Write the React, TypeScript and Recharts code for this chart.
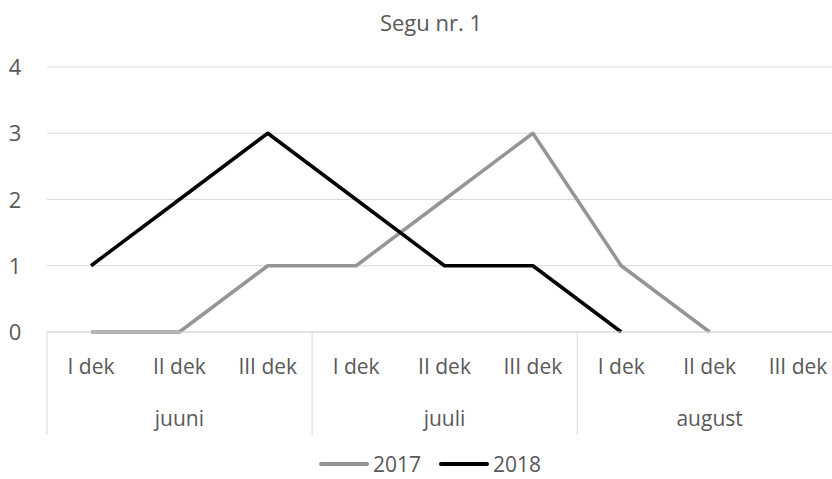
import { LineChart, Line, XAxis, YAxis, CartesianGrid, Legend } from "recharts"

const dekads = ["I dek", "II dek", "III dek", "I dek", "II dek", "III dek", "I dek", "II dek", "III dek"]
const months = ["juuni", "juuli", "august"]
const values2017 = [0, 0, 1, 1, 2, 3, 1, 0, null]
const values2018 = [1, 2, 3, 2, 1, 1, 0, null, null]
const yTicks = [0, 1, 2, 3, 4]

const data = dekads.map((d, i) => ({
  key: i,
  dek: d,
  month: months[Math.floor(i / 3)],
  y2017: values2017[i],
  y2018: values2018[i],
}))

const FONT = "'Open Sans', sans-serif"
const TEXT = "#595959"
const GRID = "#d9d9d9"
const HALF_STEP = 44

const SERIES = [
  { key: "y2017", name: "2017", color: "#959595" },
  { key: "y2018", name: "2018", color: "#000000" },
]

function XTick(props: any) {
  const { x, y, payload } = props
  const i = payload.value as number
  const row = data[i]
  return (
    <g>
      <text x={x} y={y + 42} textAnchor="middle" fill={TEXT} fontSize={21} fontFamily={FONT}>
        {row.dek}
      </text>
      {i % 3 === 1 && (
        <text x={x} y={y + 94} textAnchor="middle" fill={TEXT} fontSize={21} fontFamily={FONT}>
          {row.month}
        </text>
      )}
      {i % 3 === 0 && <line x1={x - HALF_STEP} x2={x - HALF_STEP} y1={y} y2={y + 103} stroke={GRID} />}
    </g>
  )
}

function YTick(props: any) {
  const { y, payload } = props
  return (
    <text x={15} y={y + 8} textAnchor="middle" fill={TEXT} fontSize={22} fontFamily={FONT}>
      {payload.value}
    </text>
  )
}

function LegendContent() {
  return (
    <div style={{ height: 44, display: "flex", justifyContent: "center", gap: 18, fontFamily: FONT, fontSize: 21, color: TEXT, paddingLeft: 18, boxSizing: "border-box" }}>
      {SERIES.map((s) => (
        <div key={s.key} style={{ display: "flex", alignItems: "center", gap: 4, height: 28, marginTop: 15, lineHeight: "28px" }}>
          <div style={{ width: 50, height: 4, borderRadius: 2, backgroundColor: s.color }} />
          <span>{s.name}</span>
        </div>
      ))}
    </div>
  )
}

export default function App() {
  return (
    <div style={{ position: "fixed", left: 0, top: 0, width: 832, height: 479, overflow: "hidden", background: "#fff" }}>
      <div style={{ position: "absolute", top: 5, left: 0, width: 850, textAlign: "center", paddingLeft: 12, boxSizing: "border-box", fontFamily: FONT, fontSize: 22, color: TEXT, lineHeight: "34px" }}>
        Segu nr. 1
      </div>
      <LineChart width={850} height={479} data={data} margin={{ top: 67, right: 8, left: 0, bottom: 0 }}>
        <CartesianGrid vertical={false} stroke={GRID} />
        <XAxis
          dataKey="key"
          type="category"
          height={103}
          padding={{ left: HALF_STEP, right: HALF_STEP }}
          axisLine={{ stroke: GRID }}
          tickLine={false}
          tickSize={0}
          tickMargin={0}
          interval={0}
          tick={<XTick />}
        />
        <YAxis width={47} domain={[0, 4]} ticks={yTicks} axisLine={false} tickLine={false} tick={<YTick />} />
        <Legend verticalAlign="bottom" content={<LegendContent />} />
        {SERIES.map((s) => (
          <Line
            key={s.key}
            dataKey={s.key}
            name={s.name}
            stroke={s.color}
            strokeWidth={3.5}
            dot={false}
            activeDot={false}
            isAnimationActive={false}
            strokeLinejoin="round"
          />
        ))}
      </LineChart>
    </div>
  )
}
